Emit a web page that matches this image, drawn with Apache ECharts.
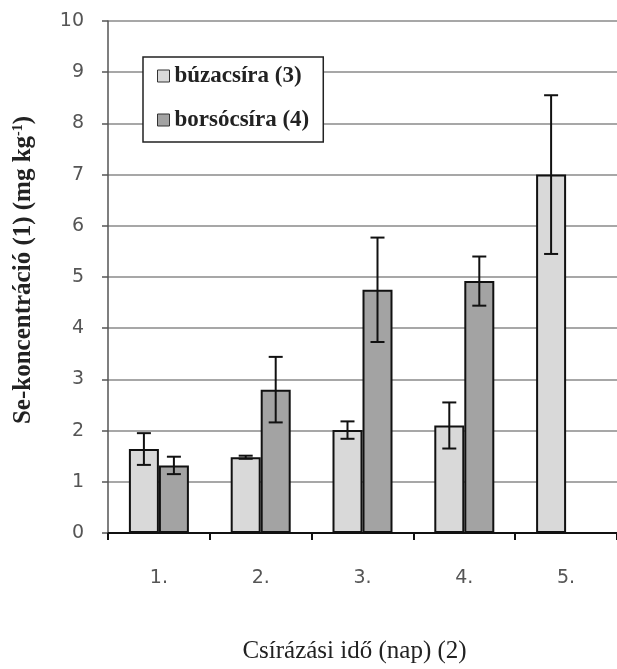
<!DOCTYPE html>
<html>
<head>
<meta charset="utf-8">
<script src="https://cdn.jsdelivr.net/npm/echarts@6/dist/echarts.min.js"></script>
<style>
html,body{margin:0;padding:0;background:#fff;}
#chart{width:617px;height:669px;}
</style>
</head>
<body>
<div id="chart"></div>
<script>
const categories = ['1.', '2.', '3.', '4.', '5.'];
const seriesNames = ['búzacsíra (3)', 'borsócsíra (4)'];
const buzaValues = [1.64, 1.48, 2.01, 2.10, 7.0];
const buzaErrors = [0.31, 0.03, 0.17, 0.45, 1.55];
const borsoValues = [1.32, 2.80, 4.75, 4.92, null];
const borsoErrors = [0.17, 0.64, 1.02, 0.48, null];
const yTicks = [0, 1, 2, 3, 4, 5, 6, 7, 8, 9, 10];

const BAR_W = 30;

function errData(vals, errs) {
  return vals.map((v, i) => v == null ? null : [i, v, errs[i]]);
}

function errRender(side) {
  return function (params, api) {
    const idx = api.value(0), val = api.value(1), err = api.value(2);
    const c = api.coord([idx, val]);
    const x = c[0] + side * BAR_W / 2;
    const top = api.coord([idx, val + err])[1];
    const bot = api.coord([idx, val - err])[1];
    const cap = 7;
    const st = { stroke: '#111', lineWidth: 2 };
    return {
      type: 'group',
      children: [
        { type: 'line', shape: { x1: x, y1: top, x2: x, y2: bot }, style: st },
        { type: 'line', shape: { x1: x - cap, y1: top, x2: x + cap, y2: top }, style: st },
        { type: 'line', shape: { x1: x - cap, y1: bot, x2: x + cap, y2: bot }, style: st }
      ]
    };
  };
}

const chart = echarts.init(document.getElementById('chart'), null, { renderer: 'canvas' });
chart.setOption({
  animation: false,
  backgroundColor: '#fff',
  grid: { left: 108, right: 0, top: 21, bottom: 134, containLabel: false },
  legend: {
    data: seriesNames,
    orient: 'vertical',
    left: 143,
    top: 57,
    padding: [7, 14, 10, 14],
    itemGap: 20,
    itemWidth: 12,
    itemHeight: 12,
    icon: 'rect',
    backgroundColor: '#fff',
    borderColor: '#222',
    borderWidth: 1.5,
    borderRadius: 0,
    itemStyle: { borderColor: '#333', borderWidth: 1 },
    textStyle: { fontFamily: 'Liberation Serif', fontWeight: 'bold', fontSize: 23, color: '#222', lineHeight: 24 }
  },
  xAxis: {
    type: 'category',
    data: categories,
    name: 'Csírázási idő (nap) (2)',
    nameLocation: 'middle',
    nameGap: 106,
    nameTextStyle: { fontFamily: 'Liberation Serif', fontSize: 25, color: '#222', padding: [0, 16, 0, 0] },
    axisLine: { lineStyle: { color: '#111', width: 2 } },
    axisTick: { show: true, length: 7, lineStyle: { color: '#111', width: 2 } },
    axisLabel: { fontFamily: 'DejaVu Sans', fontSize: 19, color: '#555', margin: 36 },
    splitLine: { show: false }
  },
  yAxis: {
    type: 'value',
    min: 0,
    max: 10,
    interval: 1,
    name: '{a|Se-koncentráció (1) (mg kg}{s|-1}{a|)}',
    nameLocation: 'middle',
    nameRotate: 90,
    nameGap: 72,
    nameTextStyle: {
      padding: [0, 0, 0, 14],
      rich: {
        a: { fontFamily: 'Liberation Serif', fontWeight: 'bold', fontSize: 25, color: '#222' },
        s: { fontFamily: 'Liberation Serif', fontWeight: 'bold', fontSize: 14, color: '#222', verticalAlign: 'top', lineHeight: 12 }
      }
    },
    axisLine: { show: true, lineStyle: { color: '#555', width: 1.5 } },
    axisTick: { show: true, length: 6, lineStyle: { color: '#555', width: 1.5 } },
    axisLabel: {
      fontFamily: 'DejaVu Sans', fontSize: 19, color: '#555', margin: 24,
      formatter: v => yTicks.includes(v) ? String(v) : ''
    },
    splitLine: { show: true, lineStyle: { color: '#8a8a8a', width: 1.5 } }
  },
  series: [
    {
      name: seriesNames[0],
      type: 'bar',
      data: buzaValues,
      barWidth: BAR_W,
      barGap: '0%',
      itemStyle: { color: '#d9d9d9', borderColor: '#111', borderWidth: 2 }
    },
    {
      name: seriesNames[1],
      type: 'bar',
      data: borsoValues,
      barWidth: BAR_W,
      barGap: '0%',
      itemStyle: { color: '#a3a3a3', borderColor: '#111', borderWidth: 2 }
    },
    {
      type: 'custom',
      name: 'err1',
      data: errData(buzaValues, buzaErrors).filter(d => d),
      renderItem: errRender(-1),
      z: 10,
      silent: true
    },
    {
      type: 'custom',
      name: 'err2',
      data: errData(borsoValues, borsoErrors).filter(d => d),
      renderItem: errRender(1),
      z: 10,
      silent: true
    }
  ]
});
</script>
</body>
</html>
